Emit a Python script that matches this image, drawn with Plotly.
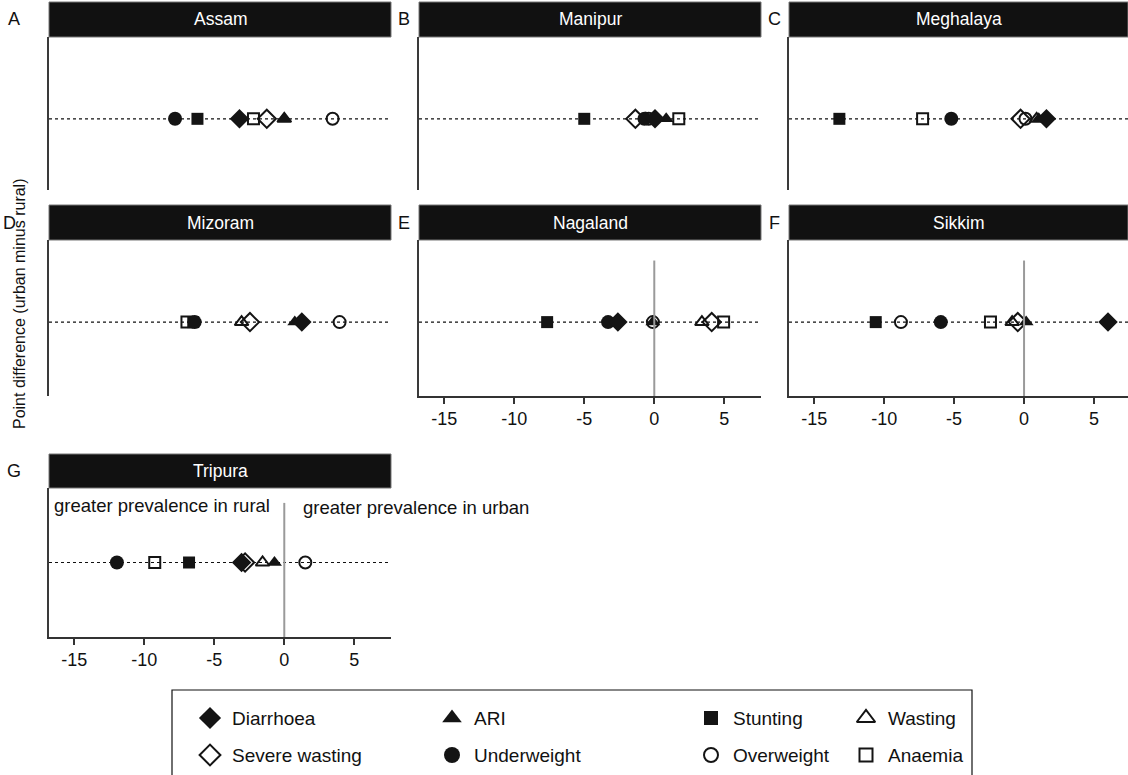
import plotly.graph_objects as go

W, H = 1128, 775

# ---------------- data ----------------
states = ["Assam", "Manipur", "Meghalaya", "Mizoram", "Nagaland", "Sikkim", "Tripura"]
panel_letters = ["A", "B", "C", "D", "E", "F", "G"]
indicators = ["Diarrhoea", "ARI", "Stunting", "Wasting",
              "Severe wasting", "Underweight", "Overweight", "Anaemia"]

diarrhoea      = [-3.2,  0.05,  1.6,  1.25, -2.6,  6.0,  -3.05]
ari            = [ 0.0,  0.85,  1.05, 0.75, -0.1,  0.15, -0.7]
stunting       = [-6.2, -5.0, -13.2, -6.5,  -7.65, -10.6, -6.8]
wasting        = [ 0.0, -0.6,  0.9, -3.05,  3.4,  -0.85, -1.55]
severe_wasting = [-1.25, -1.35, -0.25, -2.45, 4.1, -0.45, -2.8]
underweight    = [-7.8, -0.7, -5.2, -6.4,  -3.3,  -5.95, -11.95]
overweight     = [ 3.45, -0.4,  0.1,  3.95, -0.1,  -8.8,  1.5]
anaemia        = [-2.2,  1.75, -7.25, -6.95, 4.95, -2.4, -9.25]

tick_vals = [-15, -10, -5, 0, 5]
tick_text = ["-15", "-10", "-5", "0", "5"]

series = {
    "Diarrhoea": diarrhoea, "ARI": ari, "Stunting": stunting, "Wasting": wasting,
    "Severe wasting": severe_wasting, "Underweight": underweight,
    "Overweight": overweight, "Anaemia": anaemia,
}

# ---------------- styles ----------------
INK = "#141414"
marker_style = {
    "Diarrhoea":      dict(symbol="diamond", size=15, color=INK, line=dict(width=0)),
    "ARI":            dict(symbol="triangle-up", size=13, color=INK, line=dict(width=0)),
    "Stunting":       dict(symbol="square", size=12, color=INK, line=dict(width=0)),
    "Wasting":        dict(symbol="triangle-up-open", size=12, color=INK, line=dict(width=2, color=INK)),
    "Severe wasting": dict(symbol="diamond-open", size=14, color=INK, line=dict(width=2, color=INK)),
    "Underweight":    dict(symbol="circle", size=14, color=INK, line=dict(width=0)),
    "Overweight":     dict(symbol="circle-open", size=12, color=INK, line=dict(width=2, color=INK)),
    "Anaemia":        dict(symbol="square-open", size=11, color=INK, line=dict(width=2, color=INK)),
}
legend_extra = {"Diarrhoea": 2, "ARI": 4, "Stunting": 2, "Wasting": 4,
                "Severe wasting": 2, "Underweight": 2, "Overweight": 2, "Anaemia": 2}
draw_order = ["Wasting", "Severe wasting", "Overweight", "Anaemia",
              "Stunting", "Underweight", "ARI", "Diarrhoea"]

def px(x):
    return x / W

def py(y):
    return 1 - y / H

cols = [(49, 391, -16.8, 7.62), (419, 761, -16.8, 7.62), (789, 1128, -16.8, 7.43)]
rows = [  # header top, plot top, plot bottom, y-range low
    (2, 37, 190, -0.87),
    (205, 240, 396, -0.9),
    (454, 488, 637, -1.0),
]
positions = [(0, 0), (0, 1), (0, 2), (1, 0), (1, 1), (1, 2), (2, 0)]
letter_x = [14, 404, 774, 9, 404, 774, 14]
show_xaxis = [False, False, False, False, True, True, True]
zero_line_top = [None, None, None, None, 0.75, 0.75, 0.8]

fig = go.Figure()
shapes = []
annotations = []
layout_axes = {}
FONT = "Liberation Sans, Arial, sans-serif"

for i, state in enumerate(states):
    r, c = positions[i]
    x0p, x1p, xlo, xhi = cols[c]
    htop, ptop, pbot, ylo = rows[r]
    n = i + 1
    xa = "x" if n == 1 else f"x{n}"
    ya = "y" if n == 1 else f"y{n}"
    xkey = "xaxis" if n == 1 else f"xaxis{n}"
    ykey = "yaxis" if n == 1 else f"yaxis{n}"

    layout_axes[xkey] = dict(
        domain=[px(x0p), px(x1p)], range=[xlo, xhi], anchor=ya,
        showgrid=False, zeroline=False, fixedrange=True,
        showline=show_xaxis[i], linecolor="#333", linewidth=1.5,
        ticks="outside" if show_xaxis[i] else "", ticklen=6, tickwidth=1.5, tickcolor="#333",
        tickvals=tick_vals, ticktext=tick_text,
        showticklabels=show_xaxis[i],
        tickfont=dict(size=18, color="#111", family=FONT),
    )
    layout_axes[ykey] = dict(
        domain=[py(pbot), py(ptop)], range=[ylo, 1], anchor=xa,
        showgrid=False, zeroline=False, fixedrange=True,
        showline=True, linecolor="#3a3a3a", linewidth=1.5,
        ticks="", showticklabels=False,
    )

    # dotted reference line
    shapes.append(dict(type="line", xref=f"{xa} domain", yref=ya, x0=0, x1=1, y0=0, y1=0,
                       line=dict(color="#111", width=1.2, dash="dot"), layer="below"))
    # zero line
    if zero_line_top[i] is not None:
        shapes.append(dict(type="line", xref=xa, yref=ya, x0=0, x1=0,
                           y0=ylo, y1=zero_line_top[i],
                           line=dict(color="#9a9a9a", width=2), layer="above"))
    # header bar
    shapes.append(dict(type="rect", xref="paper", yref="paper",
                       x0=px(x0p), x1=px(x1p), y0=py(ptop), y1=py(htop),
                       fillcolor="#111", line=dict(color="#777", width=1)))
    annotations.append(dict(text=state, xref="paper", yref="paper",
                            x=px((x0p + x1p) / 2), y=py((htop + ptop) / 2),
                            showarrow=False, font=dict(color="white", size=17.5, family=FONT),
                            xanchor="center", yanchor="middle"))
    # panel letter
    annotations.append(dict(text=panel_letters[i], xref="paper", yref="paper",
                            x=px(letter_x[i]), y=py((htop + ptop) / 2),
                            showarrow=False, font=dict(color="#111", size=18, family=FONT),
                            xanchor="center", yanchor="middle"))

    for ind in draw_order:
        fig.add_trace(go.Scatter(
            x=[series[ind][i]], y=[0], mode="markers", marker=marker_style[ind],
            xaxis=xa, yaxis=ya, showlegend=False, cliponaxis=False, name=ind,
        ))

# Tripura annotations
annotations.append(dict(text="greater prevalence in rural", xref="paper", yref="paper",
                        x=px(52), y=py(505), xanchor="left", yanchor="middle", showarrow=False,
                        font=dict(size=18.5, color="#111", family=FONT)))
annotations.append(dict(text="greater prevalence in urban", xref="paper", yref="paper",
                        x=px(301), y=py(507), xanchor="left", yanchor="middle", showarrow=False,
                        font=dict(size=18.5, color="#111", family=FONT)))

# y-axis title
annotations.append(dict(text="Point difference (urban minus rural)", xref="paper", yref="paper",
                        x=px(19), y=py(304), textangle=-90, showarrow=False,
                        xanchor="center", yanchor="middle",
                        font=dict(size=16, color="#111", family=FONT)))

# ---------------- manual legend ----------------
leg_left, leg_top, leg_right, leg_bottom = 172, 690, 972, 776
shapes.append(dict(type="rect", xref="paper", yref="paper",
                   x0=px(leg_left), x1=px(leg_right), y0=py(leg_bottom), y1=py(leg_top),
                   line=dict(color="#111", width=1.2), fillcolor="rgba(0,0,0,0)"))
leg_cols = [210, 452, 711, 866]
leg_rows = [718, 755]
n = len(states) + 1
lx, ly = f"x{n}", f"y{n}"
layout_axes[f"xaxis{n}"] = dict(domain=[0, 1], range=[0, W], visible=False, fixedrange=True, anchor=ly)
layout_axes[f"yaxis{n}"] = dict(domain=[0, 1], range=[H, 0], visible=False, fixedrange=True, anchor=lx)
for k, ind in enumerate(indicators):
    rr, cc = divmod(k, 4)
    ms = dict(marker_style[ind])
    ms["size"] = ms["size"] + legend_extra[ind]
    fig.add_trace(go.Scatter(x=[leg_cols[cc]], y=[leg_rows[rr]], mode="markers", marker=ms,
                             xaxis=lx, yaxis=ly, showlegend=False, cliponaxis=False, hoverinfo="skip"))
    annotations.append(dict(text=ind, xref="paper", yref="paper",
                            x=px(leg_cols[cc] + 20), y=py(leg_rows[rr]),
                            xanchor="left", yanchor="middle", showarrow=False,
                            font=dict(size=19, color="#111", family=FONT)))

fig.update_layout(
    width=W, height=H, margin=dict(l=0, r=0, t=0, b=0),
    paper_bgcolor="white", plot_bgcolor="rgba(0,0,0,0)",
    shapes=shapes, annotations=annotations, showlegend=False,
    font=dict(family=FONT, color="#111"),
    **layout_axes,
)

fig.write_html("out.html", config={"displayModeBar": False},
               post_script="document.body.style.margin='0';document.body.style.padding='0';")
